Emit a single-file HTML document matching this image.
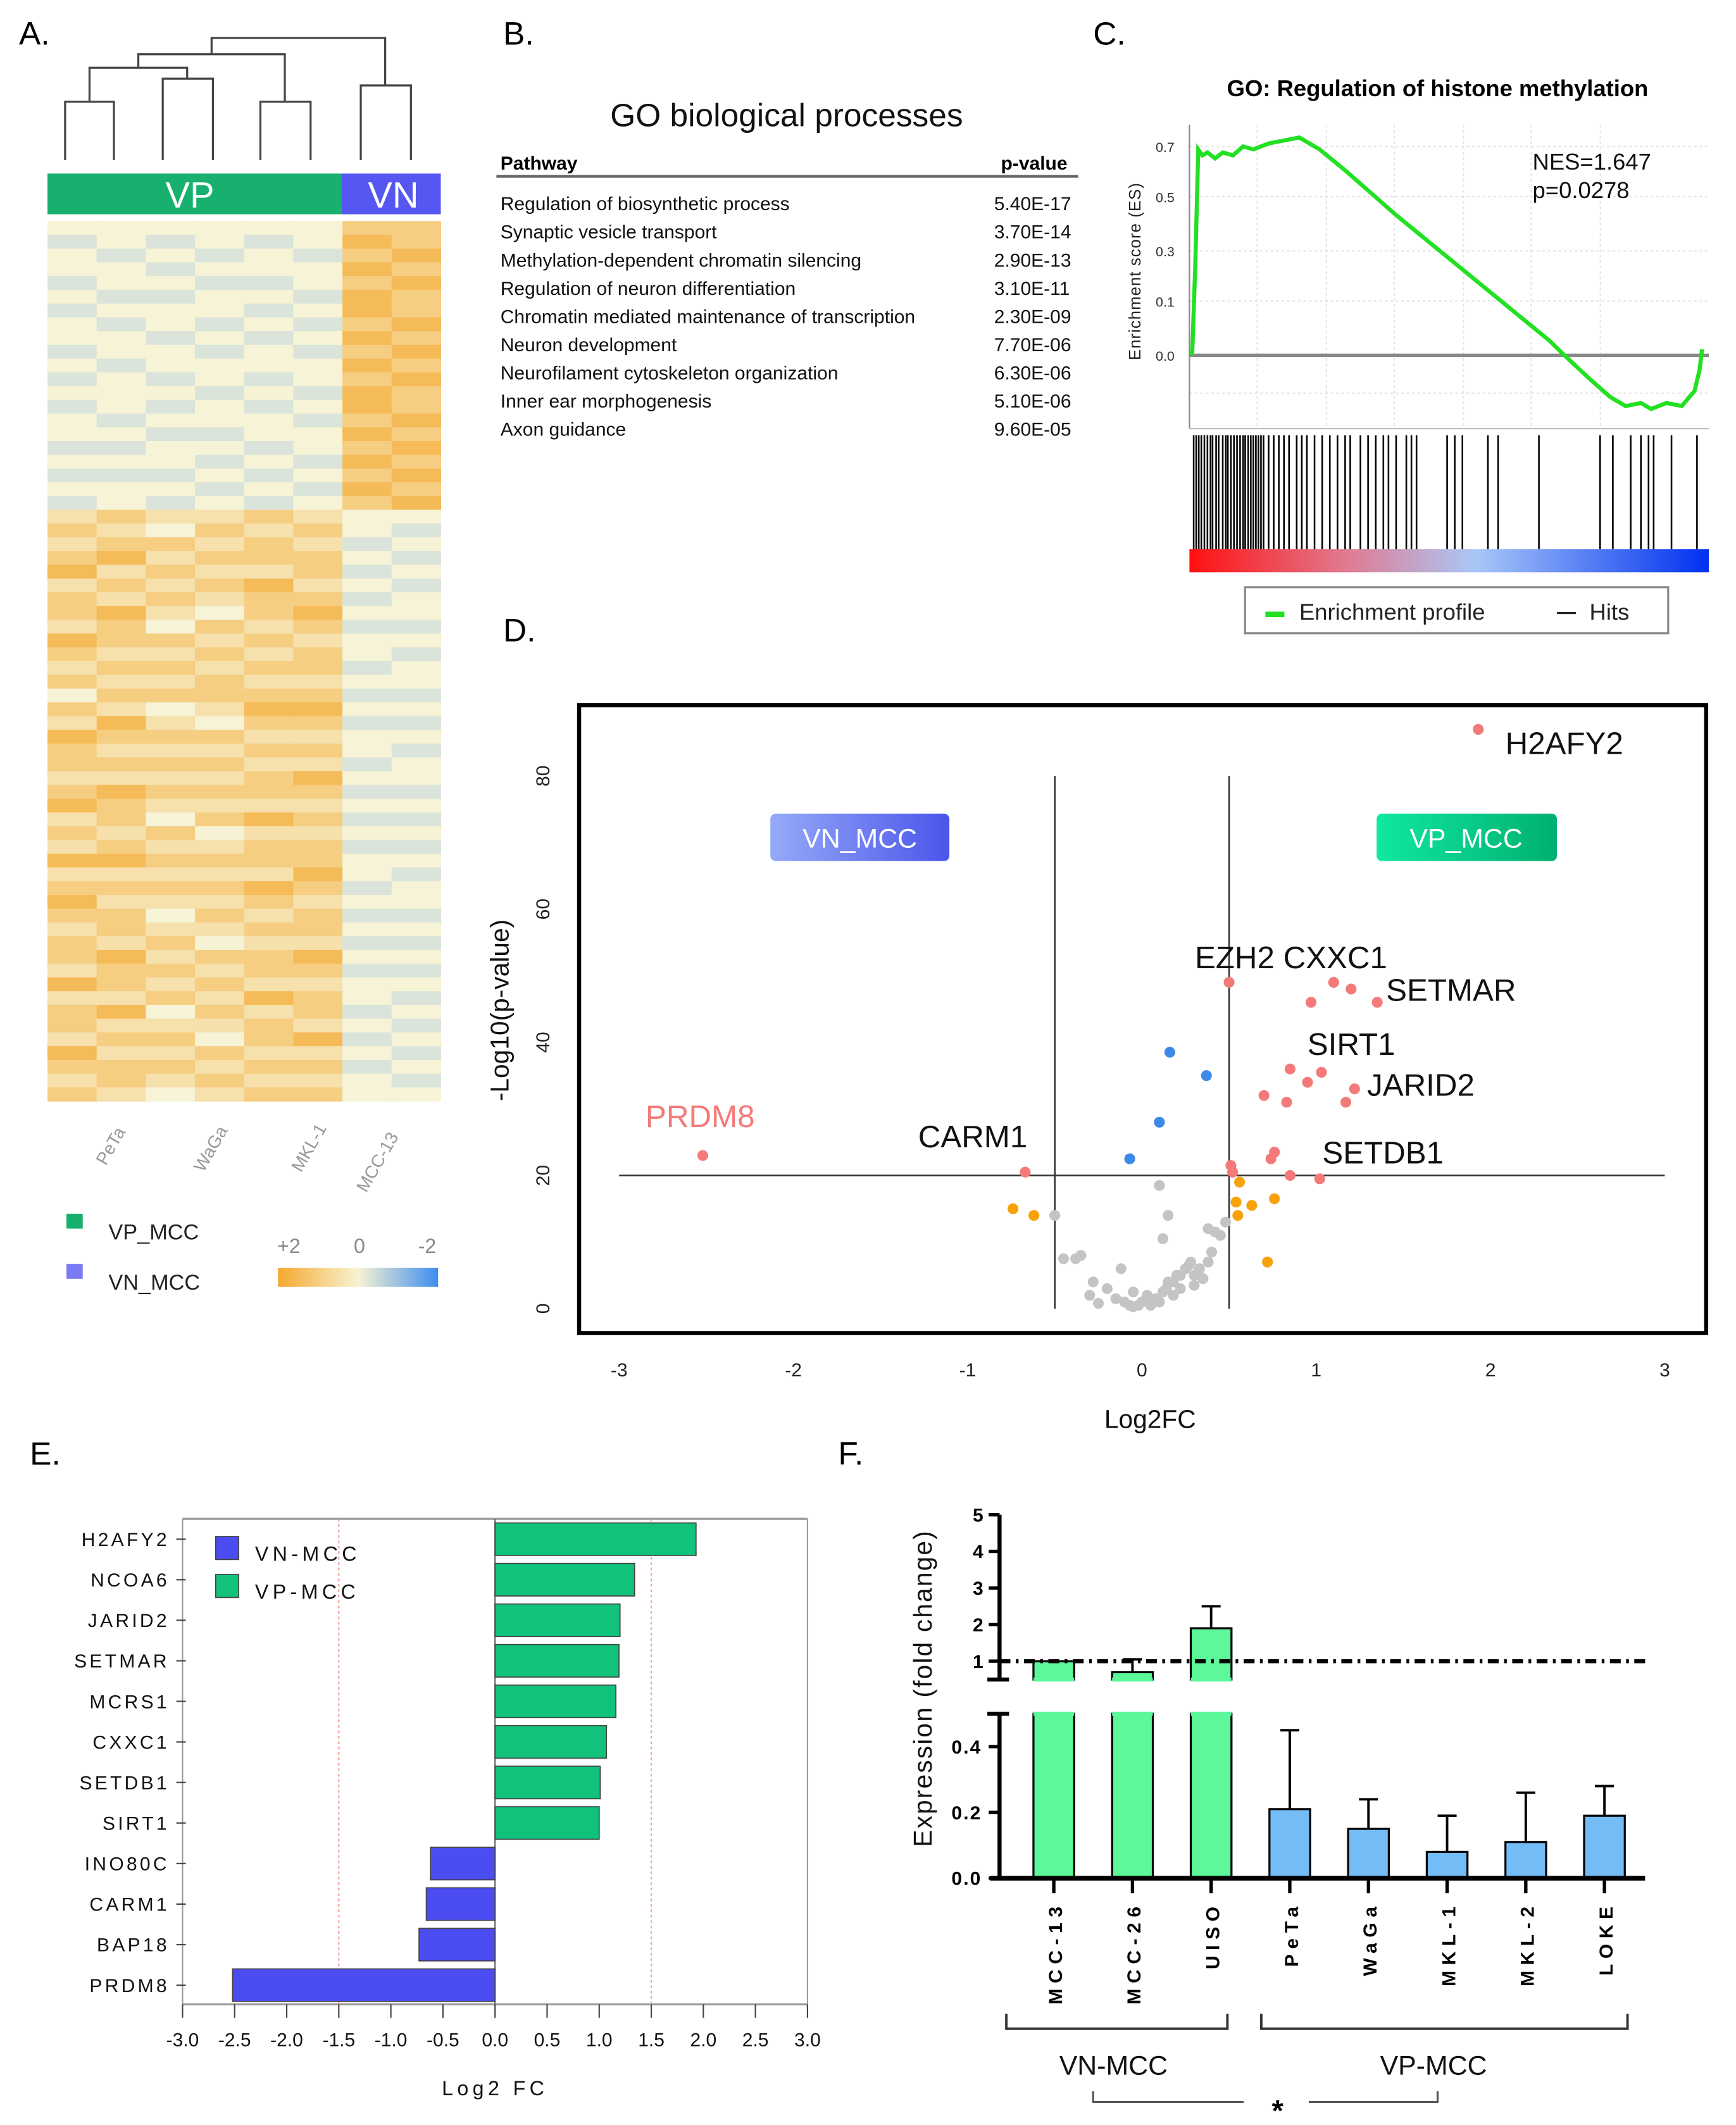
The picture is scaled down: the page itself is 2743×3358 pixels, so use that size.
<!DOCTYPE html>
<html><head><meta charset="utf-8"><style>
html,body{margin:0;padding:0;background:#fff}
svg{display:block;font-family:"Liberation Sans",sans-serif}
</style></head><body>
<svg id="fig" width="2743" height="3358" viewBox="0 0 1280 1567" preserveAspectRatio="none" xmlns="http://www.w3.org/2000/svg">
<defs>
<linearGradient id="vnGrad" x1="0" x2="1"><stop offset="0" stop-color="#96aaf8"/><stop offset="1" stop-color="#4b55ea"/></linearGradient>
<linearGradient id="vpGrad" x1="0" x2="1"><stop offset="0" stop-color="#10e8a0"/><stop offset="1" stop-color="#00b070"/></linearGradient>
<linearGradient id="rankGrad" x1="0" x2="1"><stop offset="0" stop-color="#ff1010"/><stop offset="0.3" stop-color="#e07a90"/><stop offset="0.55" stop-color="#a8c8f8"/><stop offset="1" stop-color="#0030f0"/></linearGradient>
<linearGradient id="hmGrad" x1="0" x2="1"><stop offset="0" stop-color="#f5a82e"/><stop offset="0.5" stop-color="#f8f3d2"/><stop offset="1" stop-color="#3d8ef0"/></linearGradient>
</defs>

<g font-size="24" fill="#000">
<text x="14" y="33">A.</text>
<text x="371" y="33">B.</text>
<text x="806" y="33">C.</text>
<text x="371" y="473">D.</text>
<text x="22" y="1080">E.</text>
<text x="618" y="1080">F.</text>
</g>

<!-- Panel A -->
<g id="panelA">
<g stroke="#444" stroke-width="1.5" fill="none">
<path d="M48,118 V75 H84 V118"/>
<path d="M120,118 V58 H157 V118"/>
<path d="M192,118 V75 H229 V118"/>
<path d="M266,118 V63 H303 V118"/>
<path d="M66,75 V50 H138 V58"/>
<path d="M102,50 V40 H210 V75"/>
<path d="M156,40 V28 H284 V63"/>
</g>
<rect x="35" y="128" width="217" height="30" fill="#17b06f"/>
<rect x="252" y="128" width="73" height="30" fill="#5656f0"/>
<text x="140" y="153" font-size="27" fill="#fff" text-anchor="middle">VP</text>
<text x="290" y="153" font-size="27" fill="#fff" text-anchor="middle">VN</text>
<rect x="35" y="163" width="290" height="649" fill="#f1f2d6"/>
<g id="heatCells"></g>
<g font-size="13" fill="#999">
<text transform="translate(78,860) rotate(-60)">PeTa</text>
<text transform="translate(150,865) rotate(-60)">WaGa</text>
<text transform="translate(222,865) rotate(-60)">MKL-1</text>
<text transform="translate(270,880) rotate(-60)">MCC-13</text>
</g>
<rect x="49" y="895" width="12" height="11" fill="#17b06f"/>
<text x="80" y="914" font-size="16" fill="#222">VP_MCC</text>
<rect x="49" y="932" width="12" height="11" fill="#7a7af5"/>
<text x="80" y="951" font-size="16" fill="#222">VN_MCC</text>
<rect x="205" y="935" width="118" height="14" fill="url(#hmGrad)"/>
<g font-size="15" fill="#888" text-anchor="middle">
<text x="213" y="924">+2</text>
<text x="265" y="924">0</text>
<text x="315" y="924">-2</text>
</g>
</g>

<!-- Panel B -->
<g id="panelB">
<text x="580" y="93" font-size="24" text-anchor="middle" fill="#111">GO biological processes</text>
<text x="369" y="125" font-size="14" font-weight="bold">Pathway</text>
<text x="738" y="125" font-size="14" font-weight="bold">p-value</text>
<line x1="366" y1="130" x2="795" y2="130" stroke="#666" stroke-width="2"/>
<g id="goRows" font-size="14" fill="#111"></g>
</g>

<!-- Panel C -->
<g id="panelC">
<text x="1060" y="71" font-size="17" font-weight="bold" text-anchor="middle">GO: Regulation of histone methylation</text>
<g stroke="#e4e4e4" stroke-dasharray="2,2" stroke-width="1">
<line x1="877" y1="108" x2="1260" y2="108"/><line x1="877" y1="145" x2="1260" y2="145"/>
<line x1="877" y1="185" x2="1260" y2="185"/><line x1="877" y1="222" x2="1260" y2="222"/>
<line x1="877" y1="290" x2="1260" y2="290"/>
<line x1="927" y1="92" x2="927" y2="315"/><line x1="978" y1="92" x2="978" y2="315"/>
<line x1="1028" y1="92" x2="1028" y2="315"/><line x1="1079" y1="92" x2="1079" y2="315"/>
<line x1="1129" y1="92" x2="1129" y2="315"/><line x1="1180" y1="92" x2="1180" y2="315"/>
</g>
<line x1="877" y1="92" x2="877" y2="316" stroke="#888" stroke-width="1"/>
<line x1="877" y1="316" x2="1260" y2="316" stroke="#bbb" stroke-width="1"/>
<line x1="877" y1="262" x2="1260" y2="262" stroke="#888" stroke-width="2.5"/>
<g font-size="10" fill="#333" text-anchor="end">
<text x="866" y="112">0.7</text>
<text x="866" y="149">0.5</text>
<text x="866" y="189">0.3</text>
<text x="866" y="226">0.1</text>
<text x="866" y="266">0.0</text>
</g>
<text transform="translate(841,200) rotate(-90)" font-size="12" text-anchor="middle" fill="#222" letter-spacing="0.5">Enrichment score (ES)</text>
<path id="esCurve" fill="none" stroke="#22e022" stroke-width="3"/>
<text x="1130" y="125" font-size="17" fill="#111">NES=1.647</text>
<text x="1130" y="146" font-size="17" fill="#111">p=0.0278</text>
<g id="hits" stroke="#000" stroke-width="1.2"></g>
<rect x="877" y="405" width="383" height="17" fill="url(#rankGrad)"/>
<rect x="918" y="433" width="312" height="34" fill="#fff" stroke="#888" stroke-width="1.5"/>
<line x1="933" y1="453" x2="947" y2="453" stroke="#22e022" stroke-width="4"/>
<text x="958" y="457" font-size="17" fill="#222">Enrichment profile</text>
<line x1="1148" y1="452" x2="1162" y2="452" stroke="#222" stroke-width="1.5"/>
<text x="1172" y="457" font-size="17" fill="#222">Hits</text>
</g>

<!-- Panel D -->
<g id="panelD">
<rect x="427" y="520" width="831" height="463" fill="#fff" stroke="#000" stroke-width="3"/>
<g id="volAxes"></g>
<rect x="568" y="600" width="132" height="35" rx="4" fill="url(#vnGrad)"/>
<text x="634" y="625" font-size="20" fill="#fff" text-anchor="middle">VN_MCC</text>
<rect x="1015" y="600" width="133" height="35" rx="4" fill="url(#vpGrad)"/>
<text x="1081" y="625" font-size="20" fill="#fff" text-anchor="middle">VP_MCC</text>
<g id="volPoints"></g>
<g font-size="23" fill="#111">
<text x="1110" y="556">H2AFY2</text>
<text x="881" y="714">EZH2 CXXC1</text>
<text x="1022" y="738">SETMAR</text>
<text x="964" y="778">SIRT1</text>
<text x="1008" y="808">JARID2</text>
<text x="975" y="858">SETDB1</text>
<text x="677" y="846">CARM1</text>
<text x="476" y="831" fill="#f47a7a">PRDM8</text>
</g>
<text x="848" y="1053" font-size="19" text-anchor="middle" fill="#111">Log2FC</text>
<text transform="translate(375,745) rotate(-90)" font-size="19" text-anchor="middle" fill="#111">-Log10(p-value)</text>
</g>

<g id="panelE"></g>
<g id="panelF"></g>
</svg>

<script>
const NS='http://www.w3.org/2000/svg';
function mk(tag,attrs,parent,text){const e=document.createElementNS(NS,tag);for(const k in attrs)e.setAttribute(k,attrs[k]);if(text!==undefined)e.textContent=text;parent.appendChild(e);return e;}

/* ---------- Panel A heatmap data (band values, digit d -> (d-3)*0.5) ---------- */
const heatCols=[
"323323233232323323232"+"4545645546545354655456454645654554645546545",
"332332323323332323233"+"5456454655454546545465545645455465546454554",
"323232332332323233232"+"4354545435454534545454354545434545453454543",
"332323323233233232323"+"4545454354545543545454534545454354545435454",
"323323232332323323232"+"5455465545454565454554645546545455464554545",
"332332323233232332323"+"4545545654554565454654545565455465455464545",
"565656656565665656565"+"3323232323323232332323232332323232332323233",
"556565565656556565656"+"3232323323233232323323232323323232323232323"];
const heatCell=document.getElementById('heatCells');
function heatColor(v){
  const t=Math.max(-2,Math.min(2,v));
  const o=[245,168,46],m=[246,243,214],b=[61,142,240];
  let c;
  if(t>=0){const f=t/2;c=m.map((x,i)=>Math.round(x+(o[i]-x)*f));}
  else{const f=-t/2*0.6;c=m.map((x,i)=>Math.round(x+(b[i]-x)*f));}
  return 'rgb('+c.join(',')+')';
}
heatCols.forEach((s,ci)=>{
  const nb=s.length,h=649/nb;
  for(let r=0;r<nb;r++){
    const v=(parseInt(s[r])-3)*0.5;
    const el=mk('rect',{x:35+ci*36.25,y:163+r*h,width:36.5,height:h+0.3,fill:heatColor(v)},heatCell);
    
    
  }
});

/* ---------- Panel B table ---------- */
const goPathways=["Regulation of biosynthetic process","Synaptic vesicle transport","Methylation-dependent chromatin silencing","Regulation of neuron differentiation","Chromatin mediated maintenance of transcription","Neuron development","Neurofilament cytoskeleton organization","Inner ear morphogenesis","Axon guidance"];
const goPvalues=["5.40E-17","3.70E-14","2.90E-13","3.10E-11","2.30E-09","7.70E-06","6.30E-06","5.10E-06","9.60E-05"];
const goRows=document.getElementById('goRows');
goPathways.forEach((p,i)=>{
  const y=155+i*20.8;
  const a=mk('text',{x:369,y:y},goRows,p);
  
  
  const b=mk('text',{x:733,y:y},goRows,goPvalues[i]);
  
  
});

/* ---------- Panel C GSEA ---------- */
const esRank=[0,0.006,0.012,0.02,0.03,0.045,0.06,0.08,0.1,0.12,0.15,0.18,0.21,0.25,0.3,0.4,0.5,0.6,0.7,0.73,0.78,0.82,0.85,0.88,0.9,0.93,0.96,0.975,0.985,0.995,1.0];
const esScore=[0,0.3,0.69,0.67,0.68,0.66,0.68,0.67,0.7,0.69,0.71,0.72,0.73,0.69,0.62,0.47,0.33,0.19,0.05,0.0,-0.08,-0.14,-0.17,-0.16,-0.18,-0.16,-0.17,-0.14,-0.12,-0.05,0.02];
const hitRanks=[0.003,0.008,0.013,0.018,0.024,0.03,0.036,0.04,0.047,0.052,0.06,0.066,0.07,0.076,0.082,0.088,0.094,0.1,0.104,0.11,0.115,0.12,0.125,0.13,0.135,0.14,0.15,0.16,0.17,0.18,0.19,0.205,0.215,0.225,0.24,0.255,0.27,0.285,0.3,0.31,0.33,0.345,0.36,0.375,0.385,0.4,0.42,0.43,0.44,0.5,0.515,0.53,0.58,0.6,0.68,0.8,0.825,0.86,0.88,0.895,0.905,0.94,0.99];
const gx=r=>879+r*376, gy=v=>262-v*220;
document.getElementById('esCurve').setAttribute('d',esRank.map((r,i)=>(i?'L':'M')+gx(r).toFixed(1)+','+gy(esScore[i]).toFixed(1)).join(' '));
const hitsG=document.getElementById('hits');
hitRanks.forEach(r=>{
  const l=mk('line',{x1:gx(r),x2:gx(r),y1:321,y2:405},hitsG);
  
  
});

/* ---------- Panel D volcano ---------- */
const vx=v=>842+v*128.5, vy=v=>965-v*4.91;
const xTicks=[-3,-2,-1,0,1,2,3];
const yTicks=[0,20,40,60,80];
const redFC=[1.93,0.5,0.97,1.1,1.2,1.35,0.85,0.95,1.03,1.22,0.7,0.83,1.17,0.76,0.74,0.51,0.85,1.02,0.52,-0.67,-2.52];
const redP=[87,49,46,49,48,46,36,34,35.5,33,32,31,31,23.5,22.5,21.5,20,19.5,20.5,20.5,23];
const blueFC=[0.16,0.37,0.1,-0.07];
const blueP=[38.5,35,28,22.5];
const orangeFC=[-0.74,-0.62,0.56,0.63,0.54,0.55,0.76,0.72];
const orangeP=[15,14,19,15.5,16,14,16.5,7];
const grayFC=[-0.5,-0.45,-0.38,-0.35,-0.28,-0.2,-0.15,-0.1,-0.07,-0.05,-0.02,0,0.03,0.05,0.08,0.1,0.12,0.14,0.15,0.18,0.2,0.22,0.25,0.27,0.3,0.33,0.35,0.38,0.4,0.42,0.38,0.15,0.12,0.1,-0.05,0.18,0.3,0.28,-0.25,0.45,0.48,-0.12,-0.3,0.22];
const grayP=[14,7.5,7.5,8,4,3,1.5,1,0.5,0.3,0.5,1,2,0.5,1.5,1,2.5,3,4,4,5,5,6,6.5,5,6,4.5,7,8.5,11.5,12,14,10.5,18.5,2.5,2,3.5,7,0.8,11,13,6,2,3];
const axG=document.getElementById('volAxes');
xTicks.forEach(t=>{
  const e=mk('text',{x:vx(t),y:1015,'font-size':14,'text-anchor':'middle',fill:'#222'},axG,String(t));
  
  
});
yTicks.forEach(t=>{
  const e=mk('text',{x:0,y:0,transform:'translate('+405+','+vy(t)+') rotate(-90)','font-size':14,'text-anchor':'middle',fill:'#222'},axG,String(t));
  
  
});
[-0.5,0.5].forEach(v=>{
  const l=mk('line',{x1:vx(v),x2:vx(v),y1:vy(80),y2:vy(0),stroke:'#333','stroke-width':1.2},axG);
  
  
});
const hl=mk('line',{x1:vx(-3),x2:vx(3),y1:vy(20),y2:vy(20),stroke:'#333','stroke-width':1.2},axG);


const ptG=document.getElementById('volPoints');
function pts(fc,p,col,name){fc.forEach((f,i)=>{
  const c=mk('circle',{cx:vx(f),cy:vy(p[i]),r:4,fill:col},ptG);
  
  
});}
pts(grayFC,grayP,'#c4c4c4','gray-gene-point');
pts(orangeFC,orangeP,'#f7a20a','orange-gene-point');
pts(blueFC,blueP,'#3b8ae8','blue-gene-point');
pts(redFC,redP,'#f47a7a','red-gene-point');

/* ---------- Panel E ---------- */
const eGenes=["H2AFY2","NCOA6","JARID2","SETMAR","MCRS1","CXXC1","SETDB1","SIRT1","INO80C","CARM1","BAP18","PRDM8"];
const eValues=[1.93,1.34,1.2,1.19,1.16,1.07,1.01,1.0,-0.62,-0.66,-0.73,-2.52];
const eTicks=[-3.0,-2.5,-2.0,-1.5,-1.0,-0.5,0.0,0.5,1.0,1.5,2.0,2.5,3.0];
const E=document.getElementById('panelE');
const ex=v=>365+v*76.8, ey=i=>1135+i*29.9;
const eTop=1120,eBot=1478;
let el;
el=mk('line',{x1:ex(-3),x2:ex(3),y1:eTop,y2:eTop,stroke:'#999','stroke-width':1.5},E);
el=mk('line',{x1:ex(-3),x2:ex(3),y1:eBot,y2:eBot,stroke:'#999','stroke-width':1.5},E);
el=mk('line',{x1:ex(-3),x2:ex(-3),y1:eTop,y2:eBot,stroke:'#999','stroke-width':1},E);
el=mk('line',{x1:ex(3),x2:ex(3),y1:eTop,y2:eBot,stroke:'#999','stroke-width':1},E);
[-1.5,1.5].forEach(v=>{
  const l=mk('line',{x1:ex(v),x2:ex(v),y1:eTop,y2:eBot,stroke:'#f3a0a0','stroke-width':1,'stroke-dasharray':'2,2'},E);
  
  
});
el=mk('line',{x1:ex(0),x2:ex(0),y1:eTop,y2:eBot,stroke:'#666','stroke-width':1},E);
eGenes.forEach((g,i)=>{
  const v=eValues[i];
  const r=mk('rect',{x:Math.min(ex(0),ex(v)),y:ey(i)-12,width:Math.abs(ex(v)-ex(0)),height:24,fill:v>=0?'#10c27a':'#4b4cf2',stroke:'#444','stroke-width':0.8},E);
  
  
  const t=mk('text',{x:125,y:ey(i)+5,'font-size':14,'text-anchor':'end','letter-spacing':2,fill:'#111'},E,g);
  
  
  const tk=mk('line',{x1:130,x2:137,y1:ey(i),y2:ey(i),stroke:'#444','stroke-width':1},E);
  
  
});
eTicks.forEach(t=>{
  const tk=mk('line',{x1:ex(t),x2:ex(t),y1:eBot,y2:eBot+10,stroke:'#444','stroke-width':1},E);
  
  
  const tx=mk('text',{x:ex(t),y:1509,'font-size':14,'text-anchor':'middle',fill:'#111'},E,t.toFixed(1));
  
  
});
el=mk('text',{x:365,y:1545,'font-size':15,'text-anchor':'middle','letter-spacing':3,fill:'#111'},E,'Log2 FC');
el=mk('rect',{x:159,y:1133,width:17,height:17,fill:'#4b4cf2',stroke:'#444','stroke-width':0.8},E);
el=mk('text',{x:188,y:1151,'font-size':15,'letter-spacing':3,fill:'#111'},E,'VN-MCC');
el=mk('rect',{x:159,y:1161,width:17,height:17,fill:'#10c27a',stroke:'#444','stroke-width':0.8},E);
el=mk('text',{x:188,y:1179,'font-size':15,'letter-spacing':3,fill:'#111'},E,'VP-MCC');

/* ---------- Panel F ---------- */
const fLines=["MCC-13","MCC-26","UISO","PeTa","WaGa","MKL-1","MKL-2","LOKE"];
const fValues=[1.0,0.7,1.9,0.21,0.15,0.08,0.11,0.19];
const fErrors=[1.0,1.05,2.5,0.45,0.24,0.19,0.26,0.28];
const fGroup=["VN","VN","VN","VP","VP","VP","VP","VP"];
const fUpperTicks=[1,2,3,4,5];
const fLowerTicks=[0.0,0.2,0.4];
const F=document.getElementById('panelF');
const fx=i=>777+i*58;
const uy=v=>1225-(v-1)*27;
const ly=v=>1385-v*242.5;
const uBreak=uy(0.5), lTop=ly(0.5);
fLines.forEach((n,i)=>{
  const v=fValues[i],e=fErrors[i],col=fGroup[i]=='VN'?'#5cf89a':'#74bcf5';
  if(v>0.5){
    const r1=mk('rect',{x:fx(i)-15,y:lTop,width:30,height:ly(0)-lTop,fill:col,stroke:'#000','stroke-width':1.5},F);
    
    
    const r2=mk('rect',{x:fx(i)-15,y:uy(v),width:30,height:uBreak-uy(v),fill:col,stroke:'#000','stroke-width':1.5},F);
    
    
    mk('line',{x1:fx(i)-15,x2:fx(i)+15,y1:uBreak,y2:uBreak,stroke:col,'stroke-width':3},F);
    mk('line',{x1:fx(i)-15,x2:fx(i)+15,y1:lTop,y2:lTop,stroke:col,'stroke-width':3},F);
    if(e>v){
      const l=mk('path',{d:'M'+fx(i)+','+uy(v)+' V'+uy(e)+' M'+(fx(i)-7)+','+uy(e)+' H'+(fx(i)+7),stroke:'#000','stroke-width':1.8,fill:'none'},F);
      
      
    }
  }else{
    const r=mk('rect',{x:fx(i)-15,y:ly(v),width:30,height:ly(0)-ly(v),fill:col,stroke:'#000','stroke-width':1.5},F);
    
    
    const l=mk('path',{d:'M'+fx(i)+','+ly(v)+' V'+ly(e)+' M'+(fx(i)-7)+','+ly(e)+' H'+(fx(i)+7),stroke:'#000','stroke-width':1.8,fill:'none'},F);
    
    
  }
  const tk=mk('line',{x1:fx(i),x2:fx(i),y1:ly(0),y2:ly(0)+11,stroke:'#000','stroke-width':2.5},F);
  
  
  const t=mk('text',{x:0,y:0,transform:'translate('+(fx(i)+6)+',1402) rotate(-90)','font-size':14,'font-weight':'bold','text-anchor':'end','letter-spacing':4,fill:'#000'},F,n);
  
  
});
el=mk('line',{x1:737,x2:1213,y1:uy(1),y2:uy(1),stroke:'#000','stroke-width':3,'stroke-dasharray':'8,4,2,4'},F);
el=mk('line',{x1:737,x2:737,y1:uy(5),y2:uBreak,stroke:'#000','stroke-width':3},F);
el=mk('line',{x1:737,x2:737,y1:lTop,y2:ly(0),stroke:'#000','stroke-width':3},F);
el=mk('line',{x1:730,x2:1213,y1:ly(0),y2:ly(0),stroke:'#000','stroke-width':3.5},F);
mk('line',{x1:728,x2:744,y1:uBreak,y2:uBreak,stroke:'#000','stroke-width':3},F);
mk('line',{x1:728,x2:744,y1:lTop,y2:lTop,stroke:'#000','stroke-width':3},F);
fUpperTicks.forEach(t=>{
  mk('line',{x1:729,x2:737,y1:uy(t),y2:uy(t),stroke:'#000','stroke-width':2.5},F);
  const tx=mk('text',{x:725,y:uy(t)+5,'font-size':14,'font-weight':'bold','text-anchor':'end'},F,String(t));
  
  
});
fLowerTicks.forEach(t=>{
  mk('line',{x1:729,x2:737,y1:ly(t),y2:ly(t),stroke:'#000','stroke-width':2.5},F);
  const tx=mk('text',{x:724,y:ly(t)+5,'font-size':14,'font-weight':'bold','text-anchor':'end','letter-spacing':1},F,t.toFixed(1));
  
  
});
el=mk('text',{x:0,y:0,transform:'translate(687,1245) rotate(-90)','font-size':19,'text-anchor':'middle','letter-spacing':1,fill:'#111'},F,'Expression (fold change)');
el=mk('path',{d:'M742,1485 V1496 H905 V1485 M930,1485 V1496 H1200 V1485',stroke:'#333','stroke-width':1.8,fill:'none'},F);
el=mk('text',{x:821,y:1530,'font-size':20,'text-anchor':'middle',fill:'#111'},F,'VN-MCC');
el=mk('text',{x:1057,y:1530,'font-size':20,'text-anchor':'middle',fill:'#111'},F,'VP-MCC');
el=mk('path',{d:'M806,1542 V1550 H917 M965,1550 H1060 V1542',stroke:'#555','stroke-width':1.5,fill:'none'},F);
el=mk('text',{x:942,y:1564,'font-size':22,'font-weight':'bold','text-anchor':'middle'},F,'*');
</script>
</body></html>
